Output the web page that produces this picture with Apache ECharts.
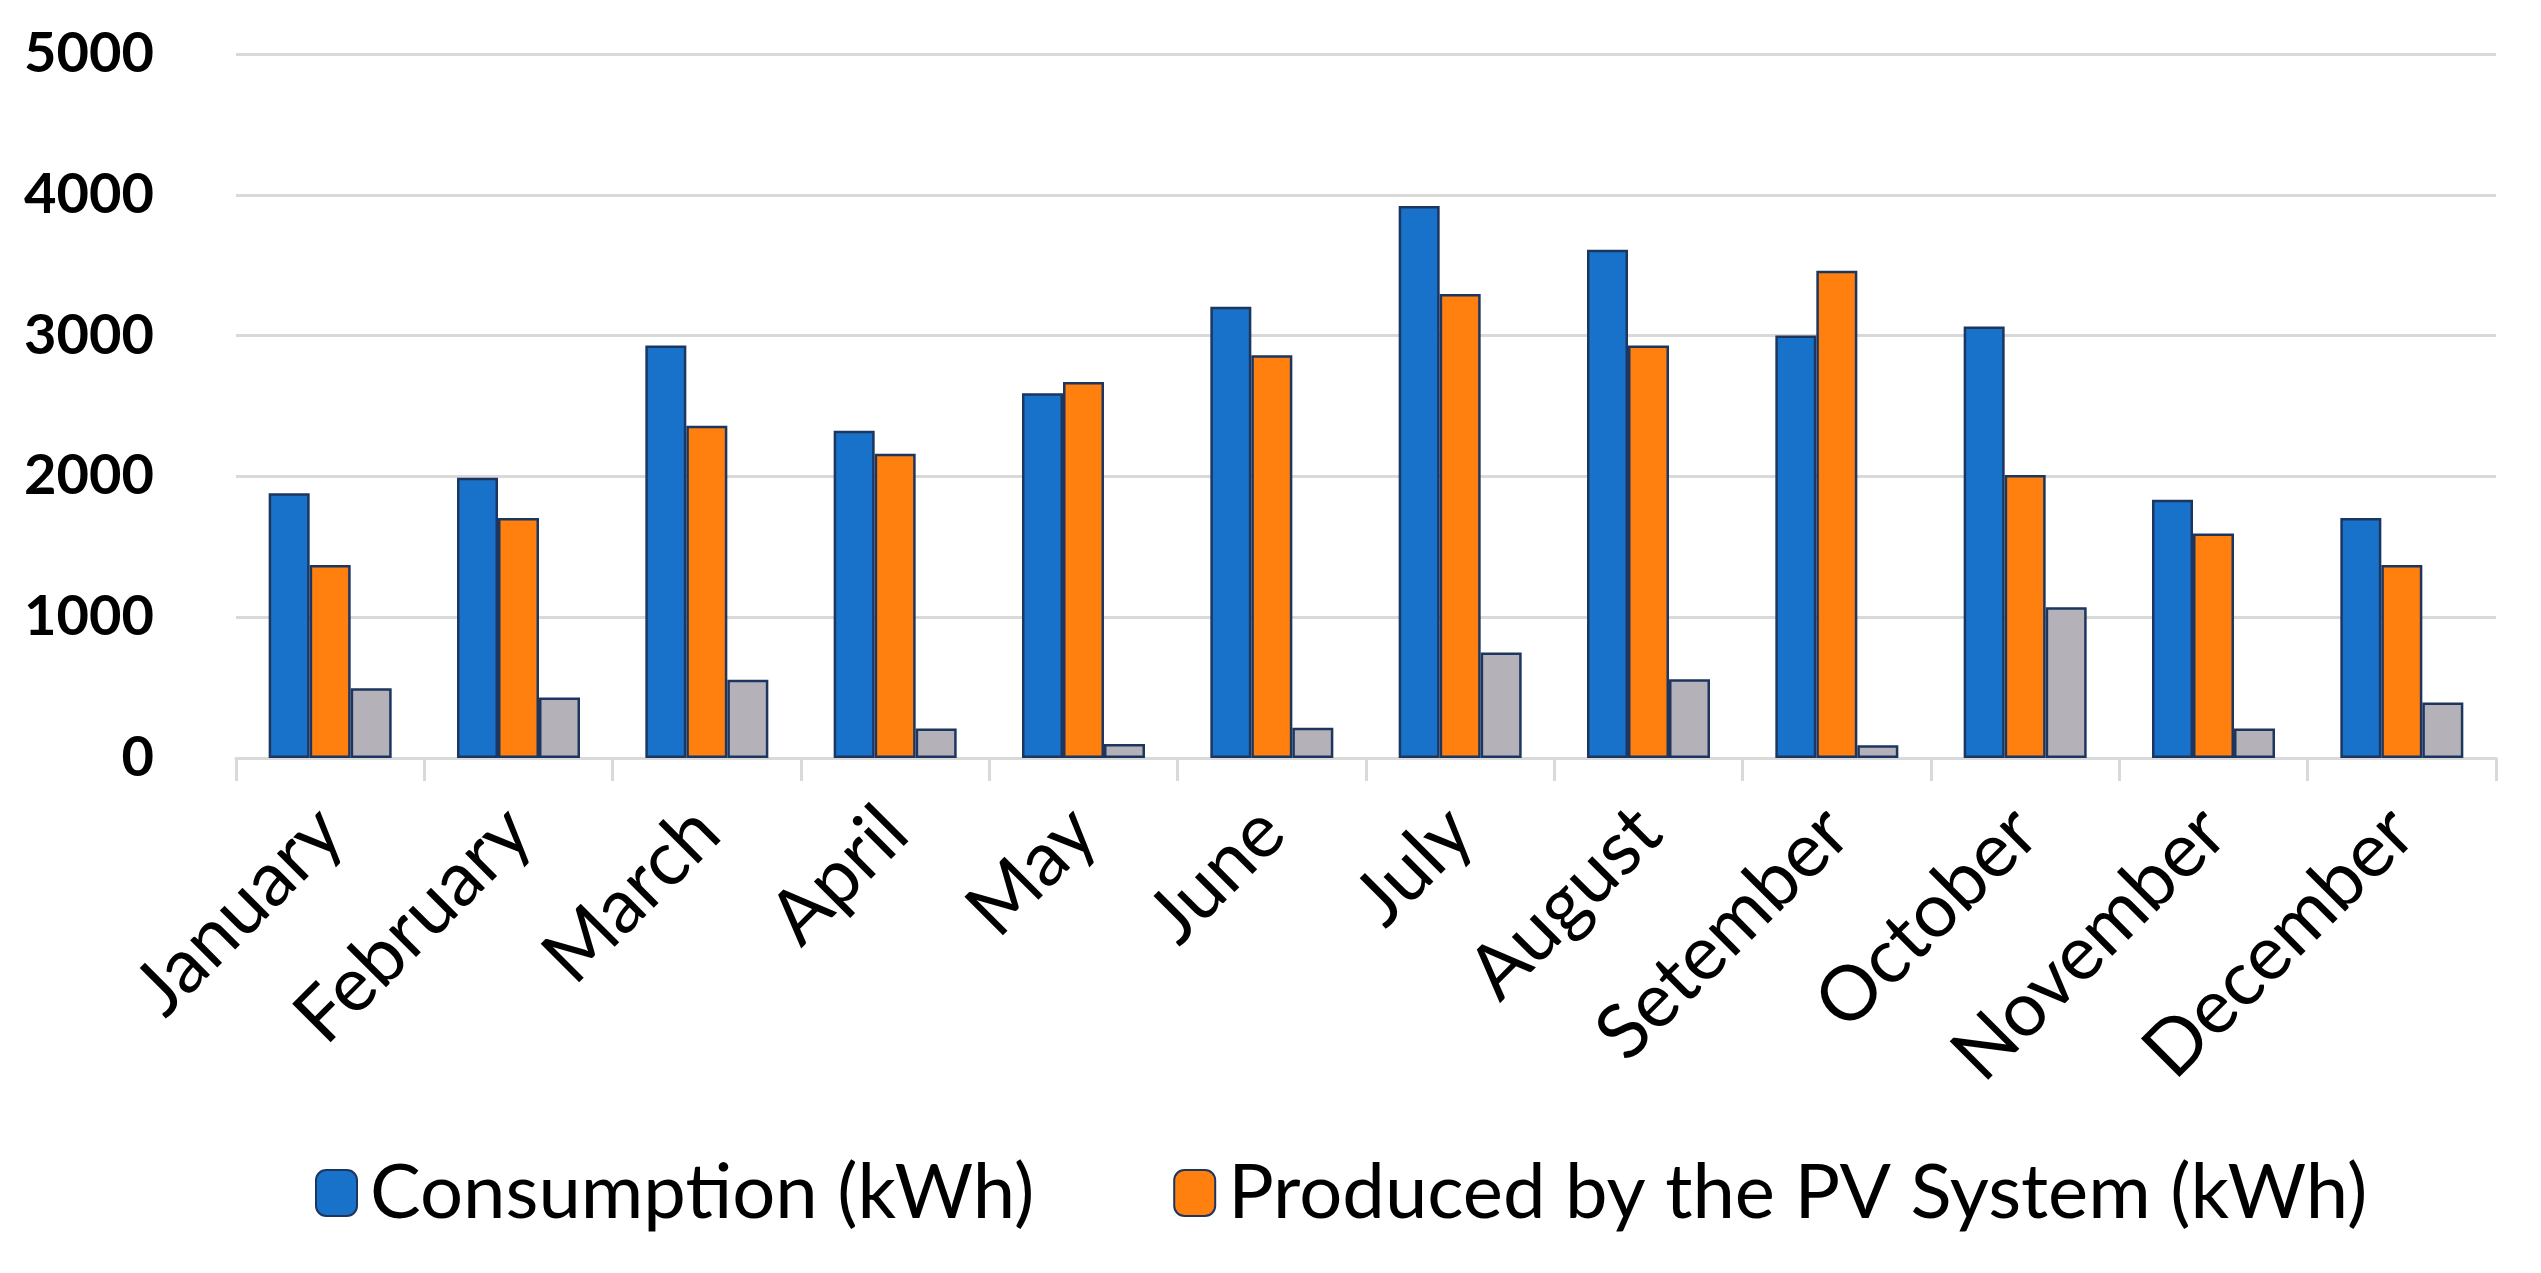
<!DOCTYPE html>
<html>
<head>
<meta charset="utf-8">
<script src="https://cdn.jsdelivr.net/npm/echarts@6/dist/echarts.min.js"></script>
<style>
html,body{margin:0;padding:0;background:#fff;}
#chart{width:2541px;height:1273px;}
</style>
</head>
<body>
<div id="chart"></div>
<script>
const categories = ['January','February','March','April','May','June','July','August','Setember','October','November','December'];
const consumption = [1880,1990,2930,2325,2590,3205,3920,3610,3000,3065,1835,1705];
const produced = [1370,1705,2360,2160,2670,2860,3295,2930,3460,2010,1595,1370];
const third = [495,430,555,210,100,215,750,560,90,1070,210,395];
const yTicks = {min:0, max:5000, interval:1000};
const seriesNames = ['Consumption (kWh)','Produced by the PV System (kWh)','Difference (kWh)'];

const chart = echarts.init(document.getElementById('chart'), null, {renderer:'canvas'});
const border = '#1c3660';
function bar(name, data, color){
  return {
    name: name, type: 'bar', data: data, barWidth: 41, barGap: '0%',
    itemStyle: {color: color, borderColor: border, borderWidth: 2.5},
    emphasis: {disabled: true}
  };
}
chart.setOption({
  animation: false,
  backgroundColor: '#ffffff',
  textStyle: {fontFamily: 'Lato'},
  grid: {left: 236, right: 45, top: 54, bottom: 515, containLabel: false},
  legend: {
    data: [seriesNames[0], seriesNames[1]],
    left: 310, top: 1150,
    itemWidth: 41, itemHeight: 46, itemGap: 139,
    textStyle: {fontFamily: 'Lato', fontSize: 76, color: '#000', padding: [0,0,0,8]},
    selectedMode: false
  },
  xAxis: {
    type: 'category', data: categories,
    axisLine: {lineStyle: {color: '#d9d9d9', width: 3}},
    axisTick: {show: true, length: 23, lineStyle: {color: '#d9d9d9', width: 3}},
    axisLabel: {rotate: 45, fontFamily: 'Lato', fontSize: 76, color: '#000', margin: 62, interval: 0}
  },
  yAxis: {
    type: 'value', min: yTicks.min, max: yTicks.max, interval: yTicks.interval,
    axisLine: {show: false}, axisTick: {show: false},
    splitLine: {lineStyle: {color: '#d9d9d9', width: 3}},
    axisLabel: {fontFamily: 'Lato', fontWeight: 'bold', fontSize: 56, color: '#000', margin: 82, padding: [0,0,12,0],
      formatter: function(v){ return String(v); }}
  },
  series: [
    bar(seriesNames[0], consumption, '#1872C9'),
    bar(seriesNames[1], produced, '#FF7F0F'),
    bar(seriesNames[2], third, '#B5B1B9')
  ]
});
</script>
</body>
</html>
